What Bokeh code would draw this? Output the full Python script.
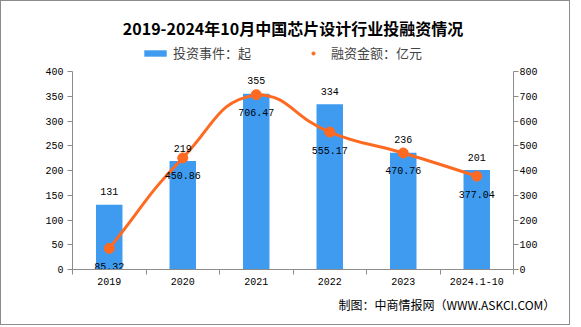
import math
from bokeh.plotting import figure
from bokeh.models import (Range1d, LinearAxis, FixedTicker, Title, Legend, LegendItem,
                          ColumnDataSource)
from bokeh.core.properties import value
from bokeh.embed import file_html
from bokeh.resources import INLINE

# ---------------- data ----------------
categories = ["2019", "2020", "2021", "2022", "2023", "2024.1-10"]
events = [131, 219, 355, 334, 236, 201]              # 投资事件：起
amounts = [85.32, 450.86, 706.47, 555.17, 470.76, 377.04]  # 融资金额：亿元
left_ticks = [0, 50, 100, 150, 200, 250, 300, 350, 400]
right_ticks = [0, 100, 200, 300, 400, 500, 600, 700, 800]

title_text = "2019-2024年10月中国芯片设计行业投融资情况"
legend_bar = "投资事件：起"
legend_line = "融资金额：亿元"
source_text = "制图：中商情报网（WWW.ASKCI.COM）"

# ---------------- style ----------------
BLUE = "#3E9BF0"
ORANGE = "#FF6A22"
GREY = "#8C8C8C"
NUM_FONT = "Liberation Mono"
CJK_FONT = "Noto Sans CJK SC"

W = 568
ML, MR = 71, 56
FW = W - ML - MR            # 441
AXIS_H = 198                # pixel height of the 0-400 / 0-800 axes
EXTRA = 29                  # frame space above the axes, holds the legend
FH = AXIS_H + EXTRA
MT, MB = 41, 55

n = len(categories)
xs = [i + 0.5 for i in range(n)]
L_MAX, R_MAX = left_ticks[-1], right_ticks[-1]

p = figure(width=W, height=MT + FH + MB, output_backend="svg", toolbar_location=None,
           x_range=Range1d(0, n), y_range=Range1d(0, L_MAX * FH / AXIS_H),
           frame_width=FW, frame_height=FH,
           min_border_left=ML, min_border_top=MT,
           min_border_right=MR, min_border_bottom=MB,
           x_axis_type=None, y_axis_type=None)
p.styles = {"border": f"1px solid {GREY}"}
p.outline_line_color = None
p.xgrid.visible = False
p.ygrid.visible = False
p.extra_y_ranges = {"amt": Range1d(0, R_MAX * FH / AXIS_H)}


def style_axis(ax):
    ax.axis_line_color = GREY
    ax.major_tick_line_color = GREY
    ax.minor_tick_line_color = GREY
    ax.major_label_text_font = NUM_FONT
    ax.major_label_text_font_size = "10px"
    ax.major_label_text_color = "#000000"

xax = LinearAxis(ticker=FixedTicker(ticks=xs, minor_ticks=list(range(n + 1))))
xax.major_label_overrides = {x: c for x, c in zip(xs, categories)}
style_axis(xax)
xax.major_tick_in = 0
xax.major_tick_out = 0
xax.minor_tick_in = 0
xax.minor_tick_out = 5
xax.major_label_standoff = 3
p.add_layout(xax, "below")

lax = LinearAxis(ticker=FixedTicker(ticks=left_ticks, minor_ticks=[]), bounds=(0, L_MAX))
style_axis(lax)
lax.major_tick_in = 0
lax.major_tick_out = 5
lax.major_label_standoff = 4
p.add_layout(lax, "left")

rax = LinearAxis(y_range_name="amt", ticker=FixedTicker(ticks=right_ticks, minor_ticks=[]),
                 bounds=(0, R_MAX))
style_axis(rax)
rax.major_tick_in = 0
rax.major_tick_out = 5
rax.major_label_standoff = 1
p.add_layout(rax, "right")

src = ColumnDataSource(dict(x=xs, ev=events, amt=amounts,
                            evl=[str(v) for v in events],
                            amtl=[f"{v:.2f}" for v in amounts]))
bars = p.vbar(x="x", top="ev", width=0.36, source=src, fill_color=BLUE, line_color=None)

# smooth line (ECharts-like bezier through the data points)
sx, sy = FW / n, AXIS_H / R_MAX
pts = [(x * sx, y * sy) for x, y in zip(xs, amounts)]
ymin = min(q[1] for q in pts); ymax = max(q[1] for q in pts)
cps = []
for i, cur in enumerate(pts):
    prev = pts[i - 1] if i > 0 else cur
    nxt = pts[i + 1] if i < n - 1 else cur
    vx, vy = nxt[0] - prev[0], nxt[1] - prev[1]
    d0 = math.hypot(cur[0] - prev[0], cur[1] - prev[1])
    d1 = math.hypot(cur[0] - nxt[0], cur[1] - nxt[1])
    s = d0 + d1
    if s:
        d0 /= s; d1 /= s
    c0 = (cur[0] - vx * 0.5 * d0, min(max(cur[1] - vy * 0.5 * d0, ymin), ymax))
    c1 = (cur[0] + vx * 0.5 * d1, min(max(cur[1] + vy * 0.5 * d1, ymin), ymax))
    cps.append((c0, c1))
bz = dict(x0=[], y0=[], x1=[], y1=[], cx0=[], cy0=[], cx1=[], cy1=[])
for i in range(n - 1):
    bz["x0"].append(pts[i][0] / sx); bz["y0"].append(pts[i][1] / sy)
    bz["x1"].append(pts[i + 1][0] / sx); bz["y1"].append(pts[i + 1][1] / sy)
    bz["cx0"].append(cps[i][1][0] / sx); bz["cy0"].append(cps[i][1][1] / sy)
    bz["cx1"].append(cps[i + 1][0][0] / sx); bz["cy1"].append(cps[i + 1][0][1] / sy)
p.bezier(source=ColumnDataSource(bz), x0="x0", y0="y0", x1="x1", y1="y1",
         cx0="cx0", cy0="cy0", cx1="cx1", cy1="cy1",
         line_color=ORANGE, line_width=3, y_range_name="amt")
dots = p.scatter(x="x", y="amt", source=src, size=10, fill_color=ORANGE,
                 line_color=ORANGE, y_range_name="amt")
legline = p.line(x=[], y=[], line_color=ORANGE, line_width=3)

p.text(x="x", y="ev", text="evl", source=src, text_align="center", text_baseline="middle",
       y_offset=-13, text_font=value(NUM_FONT), text_font_size="10px", text_color="#000000")
p.text(x="x", y="amt", text="amtl", source=src, text_align="center", text_baseline="middle",
       y_offset=18, text_font=value(NUM_FONT), text_font_size="10px", text_color="#000000",
       y_range_name="amt")

# legend inside the top strip of the frame
leg = Legend(items=[LegendItem(label=legend_bar, renderers=[bars]),
                    LegendItem(label=legend_line, renderers=[legline, dots])],
             orientation="horizontal", location=(69, FH - 20),
             glyph_width=28, glyph_height=8, spacing=48, padding=0, margin=0,
             label_text_font=CJK_FONT, label_text_font_size="13px",
             label_standoff=4, border_line_color=None, background_fill_alpha=0)
p.add_layout(leg, "center")

# title above, source below
p.title = Title(text=title_text, align="center", text_font=CJK_FONT, text_font_size="16px",
                text_font_style="bold", text_color="#000000", standoff=6)
p.add_layout(Title(text=source_text, align="left", offset=266, text_font=CJK_FONT,
                   text_font_size="12px", text_font_style="normal",
                   text_color="#000000", standoff=13), "below")

open("out.html", "w").write(file_html(p, INLINE))
